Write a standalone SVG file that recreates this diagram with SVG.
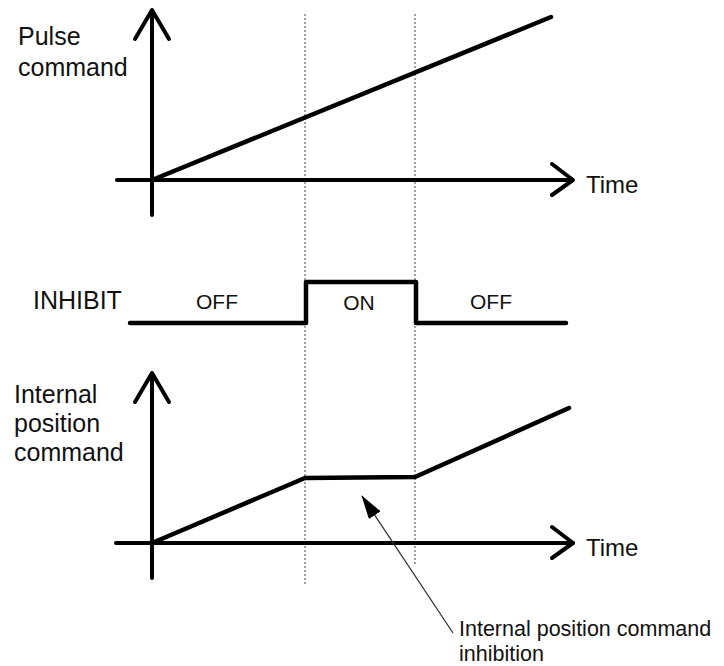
<svg xmlns="http://www.w3.org/2000/svg" width="724" height="666" viewBox="0 0 724 666">
<style>
.ax{fill:none;stroke:#000;stroke-width:4;stroke-linecap:round;stroke-linejoin:round}
.sig{fill:none;stroke:#000;stroke-width:4.5;stroke-linecap:round;stroke-linejoin:round}
.dash{fill:none;stroke:#444;stroke-width:1;stroke-dasharray:2 2}
.lbl{font-family:"Liberation Sans",Arial,sans-serif;font-size:25px;fill:#111}
.tm{font-family:"Liberation Sans",Arial,sans-serif;font-size:24px;fill:#111}
.st{font-family:"Liberation Sans",Arial,sans-serif;font-size:21px;fill:#111}
.ann{font-family:"Liberation Sans",Arial,sans-serif;font-size:21.5px;fill:#111}
</style>
<defs>
<marker id="ah" viewBox="0 0 24 14" refX="23" refY="7" markerWidth="24" markerHeight="14" markerUnits="userSpaceOnUse" orient="auto">
<path d="M0,0 L24,7 L0,14 Z" fill="#000"/>
</marker>
</defs>
<rect width="724" height="666" fill="#fff"/>
<g id="guides">
<line class="dash" x1="305" y1="14" x2="305" y2="586"/>
<line class="dash" x1="415" y1="14" x2="415" y2="566"/>
</g>
<g id="pulse-chart">
<line class="ax" x1="152" y1="11" x2="152" y2="215"/>
<polyline class="ax" points="135,39 152,10 169,39"/>
<line class="ax" x1="117" y1="180" x2="572" y2="180"/>
<polyline class="ax" points="552,164 573,180 552,195"/>
<line class="sig" x1="152" y1="180" x2="551" y2="17"/>
<text class="lbl" x="18" y="45">Pulse</text>
<text class="lbl" x="18" y="76">command</text>
<text class="tm" x="586" y="193">Time</text>
</g>
<g id="inhibit-chart">
<text class="lbl" x="33" y="309">INHIBIT</text>
<polyline class="sig" points="130,323 306,323 306,282 416,282 416,323 566,323"/>
<text class="st" x="217" y="309" text-anchor="middle">OFF</text>
<text class="st" x="359" y="310" text-anchor="middle">ON</text>
<text class="st" x="491" y="309" text-anchor="middle">OFF</text>
</g>
<g id="internal-chart">
<line class="ax" x1="152" y1="374" x2="152" y2="578"/>
<polyline class="ax" points="135,402 152,373 169,402"/>
<line class="ax" x1="116" y1="543" x2="573" y2="543"/>
<polyline class="ax" points="552,527 573,543 552,558"/>
<polyline class="sig" points="152,543 305,478 415,477 569,408"/>
<text class="lbl" x="14" y="403">Internal</text>
<text class="lbl" x="14" y="432">position</text>
<text class="lbl" x="14" y="461">command</text>
<text class="tm" x="586" y="556">Time</text>
</g>
<g id="connectors">
<line x1="453" y1="633" x2="362" y2="496" stroke="#333" stroke-width="1.3" marker-end="url(#ah)"/>
</g>
<g id="annotation">
<text class="ann" x="459" y="636">Internal position command</text>
<text class="ann" x="459" y="661">inhibition</text>
</g>
</svg>
